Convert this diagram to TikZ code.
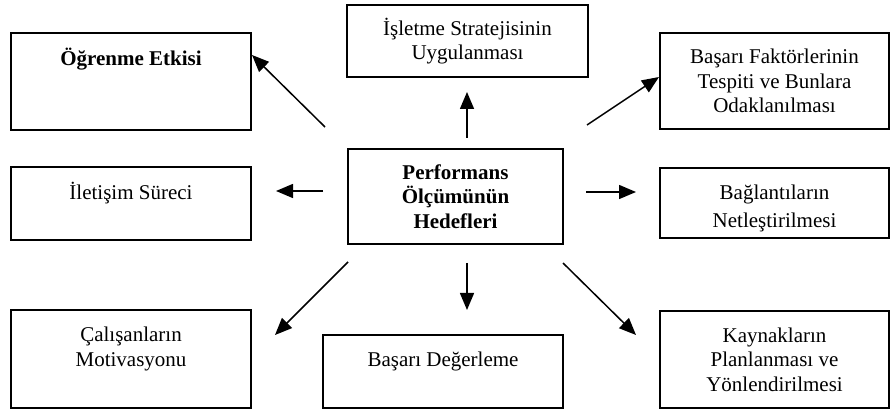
\documentclass[tikz,border=0pt]{standalone}
\usepackage{fontspec}
\setmainfont{Liberation Serif}
\usetikzlibrary{arrows.meta}
\begin{document}
\begin{tikzpicture}[x=1pt,y=-1pt,
  box/.style={draw,line width=1.8pt,align=center,inner sep=0pt,
    font=\fontsize{21}{24.5}\selectfont},
  link/.style={line width=1.5pt,-{Triangle[length=17pt,width=14pt]}}]
\useasboundingbox (0,0) rectangle (893,411);

% central box
\node[box,minimum width=215pt,minimum height=95pt] (goal) at (455.5,196.5)
  {\textbf{Performans}\\\textbf{Ölçümünün}\\\textbf{Hedefleri}};

% surrounding boxes (trailing blank lines keep the text high in the box)
\node[box,minimum width=240pt,minimum height=97pt] (learn) at (131,81.5)
  {\textbf{Öğrenme Etkisi}\\~\\~};
\node[box,minimum width=240pt,minimum height=73pt] (comm) at (131,203.5)
  {İletişim Süreci\\~};
\node[box,minimum width=240pt,minimum height=98pt] (motiv) at (131,359)
  {Çalışanların\\Motivasyonu\\~};
\node[box,minimum width=241pt,minimum height=72pt] (strat) at (467.5,41)
  {İşletme Stratejisinin\\Uygulanması};
\node[box,minimum width=240pt,minimum height=73pt] (eval) at (443,371.5)
  {Başarı Değerleme\\~};
\node[box,minimum width=229pt,minimum height=96pt] (success) at (774.5,81)
  {Başarı Faktörlerinin\\Tespiti ve Bunlara\\Odaklanılması};
\node[box,minimum width=229pt,minimum height=70pt,
  font=\fontsize{21}{28}\selectfont] (links) at (774.5,203)
  {\rule{0pt}{26pt}Bağlantıların\\Netleştirilmesi};
\node[box,minimum width=229pt,minimum height=97pt] (res) at (774.5,359.5)
  {Kaynakların\\Planlanması ve\\Yönlendirilmesi};

% arrow ends, standing free of the boxes
\coordinate (l0) at (325,127);  \coordinate (l1) at (252,55);
\coordinate (c0) at (323,191);  \coordinate (c1) at (276,191);
\coordinate (s0) at (467,138);  \coordinate (s1) at (467,92);
\coordinate (f0) at (587,125);  \coordinate (f1) at (659,77);
\coordinate (n0) at (586,192);  \coordinate (n1) at (636,192);
\coordinate (m0) at (348,262);  \coordinate (m1) at (275,335);
\coordinate (e0) at (467,263);  \coordinate (e1) at (467,310);
\coordinate (r0) at (563,263);  \coordinate (r1) at (636,335);

\draw[link] (l0) -- (l1);
\draw[link] (c0) -- (c1);
\draw[link] (s0) -- (s1);
\draw[link] (f0) -- (f1);
\draw[link] (n0) -- (n1);
\draw[link] (m0) -- (m1);
\draw[link] (e0) -- (e1);
\draw[link] (r0) -- (r1);
\end{tikzpicture}
\end{document}
